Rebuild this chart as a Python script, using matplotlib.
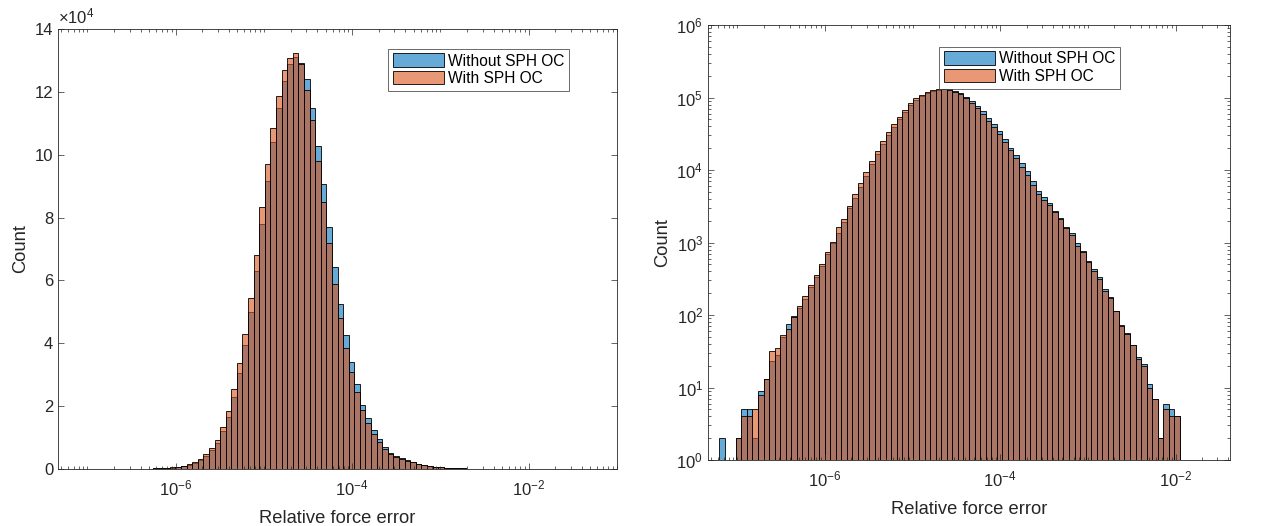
import numpy as np
import matplotlib
matplotlib.use("Agg")
import matplotlib.pyplot as plt
from matplotlib.ticker import LogLocator, NullFormatter, FixedLocator

plt.rcParams['font.family'] = ['Liberation Sans', 'DejaVu Sans']
plt.rcParams['mathtext.fontset'] = 'custom'
plt.rcParams['mathtext.rm'] = 'Liberation Sans'
plt.rcParams['mathtext.it'] = 'Liberation Sans:italic'
plt.rcParams['mathtext.bf'] = 'Liberation Sans:bold'

# 100 log-spaced bins of the relative force error
edges = np.logspace(-22 / 3, -1, 101)

# bin counts (bins 0..84, the rest are empty)
count_without = [
    0, 0, 2, 0, 0, 2, 5, 5, 2, 9,
    13, 23, 28, 50, 76, 96, 125, 165, 240, 330,
    470, 690, 975, 1340, 1936, 2965, 4075, 5890, 8330, 12000,
    16500, 22800, 30400, 39600, 50000, 63000, 78000, 91500, 104000, 115000,
    123400, 128900, 131100, 129200, 124100, 114900, 102800, 90600, 77100, 64400,
    52600, 42500, 34000, 26900, 20400, 16100, 12400, 9600, 7000, 5200,
    4200, 3470, 2720, 2160, 1620, 1340, 975, 771, 561, 431,
    331, 231, 179, 115, 73, 57, 38, 26, 21, 11,
    7, 2, 6, 5, 4,
]
count_with = [
    0, 0, 0, 0, 0, 2, 4, 4, 5, 8,
    13, 32, 35, 53, 64, 93, 132, 180, 260, 360,
    510, 733, 1026, 1622, 2110, 3220, 4620, 6560, 9290, 13300,
    18400, 25300, 33700, 43000, 54300, 68000, 83500, 97000, 108500, 118700,
    126900, 130800, 132400, 128900, 120600, 111000, 98000, 85000, 72000, 59000,
    47900, 38600, 30900, 24500, 18700, 14500, 11000, 8600, 6300, 4700,
    3800, 3290, 2600, 2080, 1560, 1280, 904, 740, 545, 410,
    318, 214, 172, 112, 70, 55, 39, 25, 20, 10,
    7, 2, 5, 4, 4,
]
count_without = count_without + [0] * (100 - len(count_without))
count_with = count_with + [0] * (100 - len(count_with))

series = [
    (count_without, (0.0, 0.447, 0.741), 'Without SPH OC'),
    (count_with, (0.85, 0.325, 0.098), 'With SPH OC'),
]
axis_col = (0.15, 0.15, 0.15)

fig = plt.figure(figsize=(12.71, 5.26), dpi=100)
ax1 = fig.add_axes([58 / 1271, 57 / 526, 559 / 1271, 440 / 526])
ax2 = fig.add_axes([708 / 1271, 66 / 526, 522 / 1271, 435 / 526])


def draw_hist(ax, logy, leg_anchor):
    lefts = edges[:-1]
    widths = np.diff(edges)
    for counts, col, lab in series:
        c = np.array(counts, dtype=float)
        m = c > 0
        ax.bar(lefts[m], c[m], width=widths[m], align='edge',
               facecolor=col + (0.6,), edgecolor='black', linewidth=0.6,
               label=lab)
    ax.set_xscale('log')
    if logy:
        ax.set_yscale('log')
    for s in ax.spines.values():
        s.set_linewidth(0.6)
        s.set_color(axis_col)
    ax.tick_params(which='both', direction='in', top=True, right=True,
                   colors=axis_col, labelsize=12, width=0.5)
    ax.tick_params(which='major', length=4)
    ax.tick_params(which='minor', length=2)
    ax.tick_params(axis='x', which='major', pad=7)
    ax.xaxis.set_major_locator(FixedLocator([1e-6, 1e-4, 1e-2]))
    ax.xaxis.set_minor_locator(LogLocator(base=10, subs=np.arange(1, 10), numticks=30))
    ax.xaxis.set_minor_formatter(NullFormatter())
    ax.set_xlabel('Relative force error', fontsize=13.2, color=axis_col, labelpad=8)
    ax.set_ylabel('Count', fontsize=13.2, color=axis_col)
    leg = ax.legend(loc='upper right', fontsize=11.2, handlelength=3.3,
                    handleheight=0.95, fancybox=False, borderpad=0.3,
                    labelspacing=0.15, handletextpad=0.26, borderaxespad=0,
                    bbox_to_anchor=leg_anchor)
    leg.get_frame().set_edgecolor(axis_col)
    leg.get_frame().set_linewidth(0.6)


draw_hist(ax1, False, (0.915, 0.955))
ax1.set_xlim(edges[0], edges[-1])
ax1.set_ylim(0, 14e4)
ax1.set_yticks(np.arange(0, 15e4, 2e4))
ax1.set_yticklabels([str(v) for v in range(0, 15, 2)])
ax1.text(0.0, 1.005, r'$\times\mathdefault{10^{4}}$', transform=ax1.transAxes,
         fontsize=12, color=axis_col, ha='left', va='bottom')

draw_hist(ax2, True, (0.79, 0.95))
ax2.set_xlim(edges[0], edges[94])
ax2.set_ylim(1, 1e6)
ax2.yaxis.set_major_locator(FixedLocator([10.0 ** p for p in range(0, 7)]))
ax2.yaxis.set_minor_locator(FixedLocator([m * 10.0 ** p for p in range(0, 6) for m in range(2, 10)]))
ax2.yaxis.set_minor_formatter(NullFormatter())

fig.savefig('out.png', dpi=100)
